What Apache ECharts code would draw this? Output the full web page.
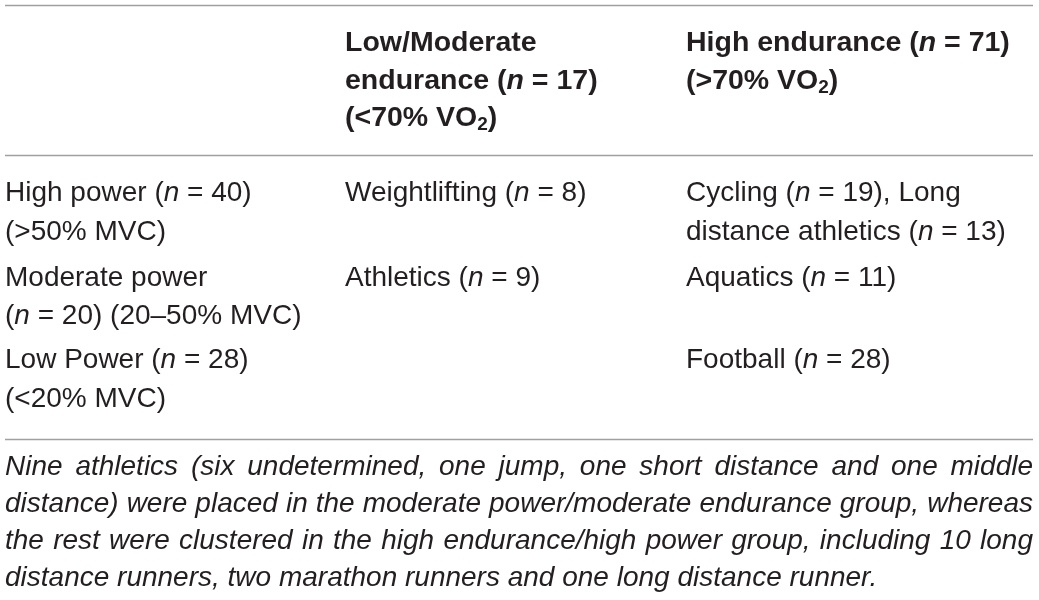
<!DOCTYPE html>
<html>
<head>
<meta charset="utf-8">
<script src="https://cdn.jsdelivr.net/npm/echarts@6/dist/echarts.min.js"></script>
<style>
  html, body { margin: 0; padding: 0; background: #fff; }
  #main { width: 1039px; height: 600px; }
</style>
</head>
<body>
<div id="main"></div>
<script>
// table content: *n* = italic n, ~2~ = subscript
const headerCols = [
  ['Low/Moderate', 'endurance (*n* = 17)', '(<70% VO~2~)'],
  ['High endurance (*n* = 71)', '(>70% VO~2~)']
];
const rowLabels = [
  ['High power (*n* = 40)', '(>50% MVC)'],
  ['Moderate power', '(*n* = 20) (20–50% MVC)'],
  ['Low Power (*n* = 28)', '(<20% MVC)']
];
const lowModCells = [
  ['Weightlifting (*n* = 8)'],
  ['Athletics (*n* = 9)'],
  []
];
const highEndCells = [
  ['Cycling (*n* = 19), Long', 'distance athletics (*n* = 13)'],
  ['Aquatics (*n* = 11)'],
  ['Football (*n* = 28)']
];
const captionLines = [
  'Nine athletics (six undetermined, one jump, one short distance and one middle',
  'distance) were placed in the moderate power/moderate endurance group, whereas',
  'the rest were clustered in the high endurance/high power group, including 10 long',
  'distance runners, two marathon runners and one long distance runner.'
];

const FONT = '"Liberation Sans", Arial, sans-serif';
const INK = '#231f20';
const RULE = '#a0a0a0';
const SIZE = 28;
const BSIZE = 28.5;
const CAP = 28;

const colX = [5, 345, 686];
const headerY = [43, 81, 118];
const rowY = [[193, 232], [278, 316], [360, 399]];
const rules = [5.5, 155.5, 439.5];
const capY = [467, 504, 541, 578];
const left = 5, right = 1033;

function toRich(s, bold) {
  const p = bold ? 'b' : 'r';
  let out = '';
  s.split(/(\*n\*|~2~)/).forEach(function (part) {
    if (!part) return;
    if (part === '*n*') out += '{' + p + 'i|n}';
    else if (part === '~2~') out += '{' + p + 's|2}';
    else out += '{' + p + '|' + part + '}';
  });
  return out;
}

const rich = {
  r: { fontFamily: FONT, fontSize: SIZE, fill: INK, lineHeight: 32 },
  ri: { fontFamily: FONT, fontSize: SIZE, fontStyle: 'italic', fill: INK, lineHeight: 32 },
  rs: { fontFamily: FONT, fontSize: 19, fill: INK, lineHeight: 16, verticalAlign: 'bottom' },
  b: { fontFamily: FONT, fontSize: BSIZE, fontWeight: 'bold', fill: INK, lineHeight: 32 },
  bi: { fontFamily: FONT, fontSize: BSIZE, fontWeight: 'bold', fontStyle: 'italic', fill: INK, lineHeight: 32 },
  bs: { fontFamily: FONT, fontSize: 19, fontWeight: 'bold', fill: INK, lineHeight: 16, verticalAlign: 'bottom' }
};

function textEl(x, y, s, bold) {
  return {
    type: 'text', x: x, y: y, silent: true,
    style: { text: toRich(s, bold), rich: rich, verticalAlign: 'middle', align: 'left' }
  };
}

const graphics = [];
rules.forEach(function (y) {
  graphics.push({
    type: 'line', silent: true,
    shape: { x1: left, y1: y, x2: right, y2: y },
    style: { stroke: RULE, lineWidth: 1.5 }
  });
});

headerCols.forEach(function (lines, c) {
  lines.forEach(function (ln, i) {
    graphics.push(textEl(colX[c + 1], headerY[i], ln, true));
  });
});

[rowLabels, lowModCells, highEndCells].forEach(function (col, c) {
  col.forEach(function (lines, r) {
    lines.forEach(function (ln, i) {
      graphics.push(textEl(colX[c], rowY[r][i], ln, false));
    });
  });
});

// justified italic caption
const capFont = 'italic ' + CAP + 'px ' + FONT;
const ctx = document.createElement('canvas').getContext('2d');
ctx.font = capFont;
captionLines.forEach(function (ln, i) {
  const words = ln.split(' ');
  const last = i === captionLines.length - 1;
  const widths = words.map(function (w) { return ctx.measureText(w).width; });
  const total = widths.reduce(function (a, b) { return a + b; }, 0);
  const gap = last ? ctx.measureText(' ').width : (right - left - total) / (words.length - 1);
  let x = left;
  words.forEach(function (w, k) {
    graphics.push({
      type: 'text', x: x, y: capY[i], silent: true,
      style: { text: w, font: capFont, fill: INK, verticalAlign: 'middle', align: 'left' }
    });
    x += widths[k] + gap;
  });
});

const chart = echarts.init(document.getElementById('main'), null, { renderer: 'canvas' });
chart.setOption({
  backgroundColor: '#fff',
  animation: false,
  graphic: { elements: graphics }
});
</script>
</body>
</html>
